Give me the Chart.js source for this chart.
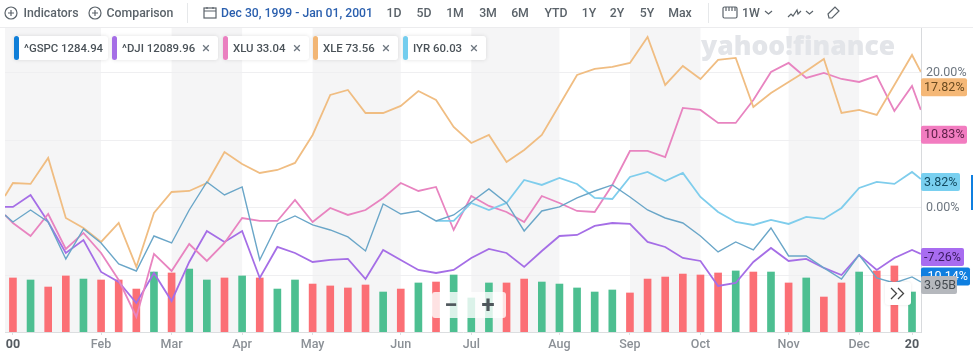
<!DOCTYPE html>
<html>
<head>
<meta charset="utf-8">
<title>Yahoo Finance comparison</title>
<script src="https://cdn.jsdelivr.net/npm/chart.js@4"></script>
<style>
    html, body { margin: 0; padding: 0; background: #fff; }
    #page { position: relative; width: 973px; height: 356px; overflow: hidden; font-family: Roboto, sans-serif; color: #5b636a; }
    #chart { position: absolute; left: 0; top: 0; }
    .tool { position: absolute; top: 13px; transform: translate(-50%, -50%); font-size: 12.3px; font-weight: 500; white-space: nowrap; }
    .chip { position: absolute; top: 36px; height: 24px; background: #fff; border-radius: 3px; box-shadow: 0 0 4px rgba(0,0,0,.12); font-size: 11.4px; font-weight: 500; line-height: 24px; color: #4a5258; white-space: nowrap; }
    .chip i { position: absolute; left: 0; top: 0; width: 5px; height: 24px; border-radius: 3px; }
    .chip span { position: absolute; left: 10px; top: 0; }
    .chip b { position: absolute; top: 0; font-weight: 400; font-size: 15px; color: #6e7780; }
    .icon { position: absolute; }
    .sep { position: absolute; top: 3px; width: 1px; height: 20px; background: #e6e8ea; }
    #topline { position: absolute; left: 0; top: 27px; width: 973px; height: 1px; background: #ececee; }
    #zoomctl { position: absolute; left: 432px; top: 292px; width: 74px; height: 26px; background: rgba(255,255,255,.8); border-radius: 3px; color: #4f575c; font-size: 24px; font-weight: 700; line-height: 26px; }
    #zoomctl span { position: absolute; top: 0; transform: translateX(-50%); }
    #more { position: absolute; left: 885px; top: 282px; width: 26px; height: 23px; background: #fff; border-radius: 3px; box-shadow: 0 0 3px rgba(0,0,0,.1); }
    #sliver { position: absolute; left: 971px; top: 175px; width: 2px; height: 35px; background: #0f7fe0; }
</style>
</head>
<body>
<div id="page">
    <canvas id="chart" width="973" height="356"></canvas>
    <div id="topline"></div>
    <div id="tools"></div>
    <div id="chips"></div>
    <div id="zoomctl"><span style="left:19px">&minus;</span><span style="left:56px">+</span></div>
    <div id="more"><svg width="26" height="23"><path d="M6 6l5.500 5.500L6 17M13 6l5.500 5.500L13 17" fill="none" stroke="#444" stroke-width="1.3"/></svg></div>
    <div id="sliver"></div>
</div>

<script>
// first and last points are the partial weeks at the edges of the window
const weeks = [-0.45, 0, 1, 2, 3, 4, 5, 6, 7, 8, 9, 10, 11, 12, 13, 14, 15, 16, 17, 18, 19, 20, 21, 22, 23, 24, 25, 26,
    27, 28, 29, 30, 31, 32, 33, 34, 35, 36, 37, 38, 39, 40, 41, 42, 43, 44, 45, 46, 47, 48, 49, 50, 51, 51.5];
const barWeeks = [0, 1, 2, 3, 4, 5, 6, 7, 8, 9, 10, 11, 12, 13, 14, 15, 16, 17, 18, 19, 20, 21, 22, 23, 24, 25,
    26, 27, 28, 29, 30, 31, 32, 33, 34, 35, 36, 37, 38, 39, 40, 41, 42, 43, 44, 45, 46, 47, 48, 49, 50, 51];

const tickWeeks = [0, 5, 9, 13, 17, 22, 26, 31, 35, 39, 44, 48, 51];
const tickLabels = ['00', 'Feb', 'Mar', 'Apr', 'May', 'Jun', 'Jul', 'Aug', 'Sep', 'Oct', 'Nov', 'Dec', '20'];
const monthEdges = [-0.45, 5, 9, 13, 17, 22, 26, 31, 35, 39, 44, 48, 51.51];

const gspc = [-1.03, -2.07, -0.30, -2.07, -7.53, -3.10, -5.17, -8.27, -9.31, -4.14, -5.17, -0.30, 3.84, 1.92, 3.10, -7.68, -2.36, -1.18,
    -2.51, -3.25, -4.28, -6.35, 0.59, -0.89, -0.44, -1.92, -1.03, 0.89, 2.81, 0.74, -3.40, -0.44, 0.15, 1.48, 2.51, 3.40, 1.62, -0.30,
    -1.48, -2.22, -4.14, -6.50, -5.02, -6.20, -2.95, -7.09, -7.09, -8.86, -10.49, -6.94, -10.34, -11.08, -10.19, -10.93];
const dji = [0.15, 0.15, 1.92, -2.07, -6.65, -4.73, -9.45, -10.93, -14.03, -9.60, -13.74, -7.98, -3.40, -5.02, -3.40, -10.34, -5.76, -6.65,
    -7.98, -7.68, -7.53, -10.49, -6.20, -7.68, -9.16, -9.60, -9.16, -7.39, -6.06, -6.65, -8.71, -6.35, -4.14, -3.99, -2.66, -2.22, -2.36, -5.02,
    -5.76, -7.39, -7.83, -11.52, -11.08, -7.98, -5.91, -7.83, -7.53, -8.86, -9.90, -6.94, -9.16, -7.39, -6.20, -6.79];
const xlu = [-1.03, -2.22, -4.14, -0.89, -6.06, -3.69, -6.65, -10.64, -16.10, -6.79, -9.31, -5.32, -7.83, -5.17, -1.48, -1.92, -1.92, 1.18,
    -2.07, 0.00, -1.03, -0.30, 1.48, 3.69, 2.51, 3.10, -3.25, 1.77, 0.30, -0.59, -2.07, 1.77, 0.74, -0.44, -0.59, 3.40, 8.42, 8.42,
    7.53, 14.77, 14.48, 12.56, 12.56, 15.95, 20.09, 21.42, 19.20, 19.94, 19.05, 18.61, 19.50, 14.33, 18.02, 14.48];
const xle = [1.77, 3.69, 3.55, 7.39, -1.48, -2.95, -5.02, -2.22, -8.71, -0.74, 2.36, 2.51, 3.69, 8.27, 6.50, 5.17, 5.61, 6.65,
    10.78, 16.69, 17.43, 14.03, 14.03, 15.07, 17.28, 15.95, 11.96, 9.60, 10.78, 6.79, 8.57, 10.78, 15.21, 19.65, 20.53, 20.83, 21.42, 25.26,
    18.17, 20.97, 19.05, 21.86, 22.16, 14.92, 16.99, 18.61, 20.24, 22.01, 14.03, 14.48, 13.74, 18.17, 22.60, 20.09];
// IYR only starts trading at the end of June
const iyr = [null, null, null, null, null, null, null, null, null, null, null, null, null, null, null, null, null, null, null, null, null, null, null, null, null,
    -1.92, -1.92, 0.74, -0.30, 0.74, 4.14, 3.40, 4.43, 3.55, 1.48, 1.33, 4.58, 5.32,
    3.99, 5.17, 1.62, -0.59, -2.07, -2.51, -1.77, -2.36, -1.33, -1.62, 0.00, 2.95, 3.84, 3.55, 5.32, 4.28];

// volume in billions, 1 = up week
const volume = [4.54, 4.37, 3.78, 4.71, 4.45, 4.37, 4.37, 3.61, 5.04, 4.96, 5.29, 4.37, 4.54, 4.71, 4.54, 3.61, 4.37, 4.03,
    3.87, 3.70, 3.95, 3.36, 3.61, 4.12, 4.20, 4.79, 2.86, 4.12, 4.12, 4.45, 4.20, 4.03, 3.70, 3.36, 3.53, 3.28,
    4.45, 4.62, 4.87, 4.79, 4.96, 5.13, 5.04, 5.04, 4.12, 4.54, 2.94, 4.12, 5.04, 5.13, 5.55, 3.36];
const volumeUp = [0, 1, 0, 0, 1, 0, 0, 0, 1, 0, 1, 1, 0, 1, 0, 1, 1, 0,
    0, 0, 0, 1, 0, 1, 0, 1, 1, 1, 0, 0, 1, 1, 1, 1, 1, 0,
    0, 0, 0, 0, 0, 1, 0, 1, 0, 1, 0, 0, 1, 0, 0, 1];

const lastValues = [17.82, 10.83, 3.82, -7.26, -10.14];
const lastVolume = 3.95;

const COLORS = {gspc: '#6aa6c8', dji: '#a56ee6', xlu: '#e884c0', xle: '#f0bd82', iyr: '#7fcdec', up: '#4dbf91', down: '#fb6f75'};

function toPoints(xs, ys) {
    return ys.map((y, i) => ({x: xs[i], y: y}));
}

function lineDataset(label, values, color, width) {
    return {
        type: 'line',
        label: label,
        data: toPoints(weeks, values),
        borderColor: color,
        borderWidth: width,
        pointRadius: 0,
        tension: 0,
        yAxisID: 'y',
        order: 1
    };
}

// alternating month bands and the watermark, behind the marks
const backdrop = {
    id: 'backdrop',
    beforeDraw(chart) {
        const {ctx, chartArea, scales} = chart;
        ctx.save();
        ctx.fillStyle = '#f5f5f6';
        for (let i = 0; i < monthEdges.length - 1; i += 2) {
            const left = scales.x.getPixelForValue(monthEdges[i]);
            const right = scales.x.getPixelForValue(monthEdges[i + 1]);
            ctx.fillRect(left, chartArea.top, right - left, chartArea.height);
        }
        ctx.restore();
    },
    beforeDatasetsDraw(chart) {
        const ctx = chart.ctx;
        ctx.save();
        ctx.font = '800 26.500px "Open Sans", sans-serif';
        ctx.fillStyle = '#e3e5e9';
        ctx.textBaseline = 'middle';
        ctx.fillText('yahoo!finance', 701, 47);
        ctx.restore();
    }
};

function drawTag(ctx, x, y, w, text, bg, fg) {
    ctx.fillStyle = bg;
    ctx.beginPath();
    ctx.roundRect(x, y - 9, w, 18, 2);
    ctx.fill();
    ctx.fillStyle = fg;
    ctx.fillText(text, x + 3, y + 0.5);
}

// price and volume tags on the right of the plot
const endTags = {
    id: 'endTags',
    afterDraw(chart) {
        const ctx = chart.ctx;
        const y = chart.scales.y;
        const tags = [
            {w: 46, bg: '#f5b877', fg: '#6a4a1f'},
            {w: 46, bg: '#f27cc0', fg: '#5e2048'},
            {w: 39, bg: '#79d0f0', fg: '#134a60'},
            {w: 43, bg: '#a86cf0', fg: '#3a1a60'},
            {w: 49, bg: '#0f7fe0', fg: '#ffffff'}
        ];
        ctx.save();
        ctx.font = '400 12.5px Roboto, sans-serif';
        ctx.textBaseline = 'middle';
        lastValues.forEach((v, i) => {
            drawTag(ctx, 921, y.getPixelForValue(v), tags[i].w, v.toFixed(2) + '%', tags[i].bg, tags[i].fg);
        });
        drawTag(ctx, 921, chart.scales.yVol.getPixelForValue(lastVolume), 36, lastVolume.toFixed(2) + 'B', '#b5b8bd', '#444a50');
        ctx.restore();
    }
};

new Chart(document.getElementById('chart'), {
    type: 'bar',
    data: {
        datasets: [
            lineDataset('^GSPC', gspc, COLORS.gspc, 1.4),
            lineDataset('XLE', xle, COLORS.xle, 1.8),
            lineDataset('IYR', iyr, COLORS.iyr, 1.8),
            lineDataset('XLU', xlu, COLORS.xlu, 1.8),
            lineDataset('^DJI', dji, COLORS.dji, 1.8),
            {
                type: 'bar',
                label: 'Volume',
                data: toPoints(barWeeks, volume),
                backgroundColor: volumeUp.map(up => up ? COLORS.up : COLORS.down),
                barThickness: 7,
                yAxisID: 'yVol',
                order: 10
            }
        ]
    },
    options: {
        responsive: false,
        animation: false,
        layout: {padding: {left: 5, top: 27, right: 0, bottom: 0}},
        plugins: {legend: {display: false}, tooltip: {enabled: false}},
        scales: {
            x: {
                type: 'linear',
                offset: false,
                min: -0.45,
                max: 51.51,
                afterBuildTicks(scale) {
                    scale.ticks = tickWeeks.map(v => ({value: v}));
                },
                afterFit(scale) {
                    scale.height = 24;
                },
                grid: {drawOnChartArea: false, offset: false, tickLength: 3, color: '#dcdee0'},
                border: {color: '#dcdee0'},
                ticks: {
                    autoSkip: false,
                    maxRotation: 0,
                    padding: 2,
                    color: ctx => (ctx.index === 0 || ctx.index === tickLabels.length - 1) ? '#555b61' : '#8b9096',
                    font: ctx => ({family: 'Roboto, sans-serif', size: 12.5, weight: (ctx.index === 0 || ctx.index === tickLabels.length - 1) ? '700' : '500'}),
                    callback: (value, index) => tickLabels[index]
                }
            },
            y: {
                position: 'right',
                min: -18.32,
                max: 26.73,
                afterFit(scale) {
                    scale.width = 52;
                },
                grid: {color: '#efeff1', drawTicks: false},
                border: {color: '#d8dadd'},
                ticks: {
                    stepSize: 10,
                    includeBounds: false,
                    padding: 5,
                    color: '#6e7780',
                    font: {family: 'Roboto, sans-serif', size: 12.5},
                    callback: value => value.toFixed(2) + '%'
                }
            },
            yVol: {display: false, min: 0, max: 25.63}
        }
    },
    plugins: [backdrop, endTags]
});

// toolbar and the comparison chips above the plot
const toolLabels = [
    ['Indicators', 51], ['Comparison', 140], ['Dec 30, 1999 - Jan 01, 2001', 297],
    ['1D', 394], ['5D', 424], ['1M', 455], ['3M', 488], ['6M', 520], ['YTD', 556],
    ['1Y', 589], ['2Y', 617], ['5Y', 647], ['Max', 680], ['1W', 751]
];
const chipItems = [
    {text: '^GSPC 1284.94', left: 14, width: 94, close: false, color: '#0f7ed8'},
    {text: '^DJI 12089.96', left: 112, width: 106, close: true, color: '#a56ee6'},
    {text: 'XLU 33.04', left: 223, width: 86, close: true, color: '#ea80c0'},
    {text: 'XLE 73.56', left: 313, width: 85, close: true, color: '#f2b675'},
    {text: 'IYR 60.03', left: 403, width: 83, close: true, color: '#74cdee'}
];

const toolsEl = document.getElementById('tools');
toolLabels.forEach(([text, x]) => {
    const el = document.createElement('div');
    el.className = 'tool';
    el.style.left = x + 'px';
    el.textContent = text;
    if (text.startsWith('Dec')) {
        el.style.color = '#2a5fae';
        el.style.fontSize = '12.2px';
    }
    toolsEl.appendChild(el);
});

const iconStroke = 'fill="none" stroke="#5b636a" stroke-width="1.2"';
const plusIcon = x => `<svg class="icon" style="left:${x}px;top:6px" width="14" height="14"><circle cx="7" cy="7" r="6" ${iconStroke}/><path d="M4 7h6M7 4v6" ${iconStroke}/></svg>`;
toolsEl.insertAdjacentHTML('beforeend',
    plusIcon(4) + plusIcon(88) +
    '<div class="sep" style="left:187px"></div><div class="sep" style="left:708px"></div>' +
    `<svg class="icon" style="left:203px;top:6px" width="14" height="14"><rect x="1" y="2" width="12" height="10" ${iconStroke}/><path d="M1 5h12M4 1v2M10 1v2" ${iconStroke}/></svg>` +
    `<svg class="icon" style="left:722px;top:5px" width="16" height="15"><rect x="1" y="2" width="14" height="11" rx="1.5" ${iconStroke}/><path d="M4 2v4M7 2v4M10 2v4M13 2v4" ${iconStroke}/></svg>` +
    `<svg class="icon" style="left:764px;top:10px" width="9" height="6"><path d="M1 1l3.5 3L8 1" ${iconStroke}/></svg>` +
    `<svg class="icon" style="left:787px;top:7px" width="16" height="12"><path d="M1 10l3-3 2 2 4-6 1 4 3-3" ${iconStroke}/></svg>` +
    `<svg class="icon" style="left:805px;top:10px" width="9" height="6"><path d="M1 1l3.5 3L8 1" ${iconStroke}/></svg>` +
    `<svg class="icon" style="left:826px;top:5px" width="15" height="16"><path d="M2 9l7-7 4 4-7 7H3z" ${iconStroke}/></svg>`
);

const chipsEl = document.getElementById('chips');
chipItems.forEach(item => {
    const el = document.createElement('div');
    el.className = 'chip';
    el.style.left = item.left + 'px';
    el.style.width = item.width + 'px';
    el.innerHTML = `<i style="background:${item.color}"></i><span>${item.text}</span>` +
        (item.close ? `<b style="left:${item.width - 16}px">&times;</b>` : '');
    chipsEl.appendChild(el);
});
</script>
</body>
</html>
